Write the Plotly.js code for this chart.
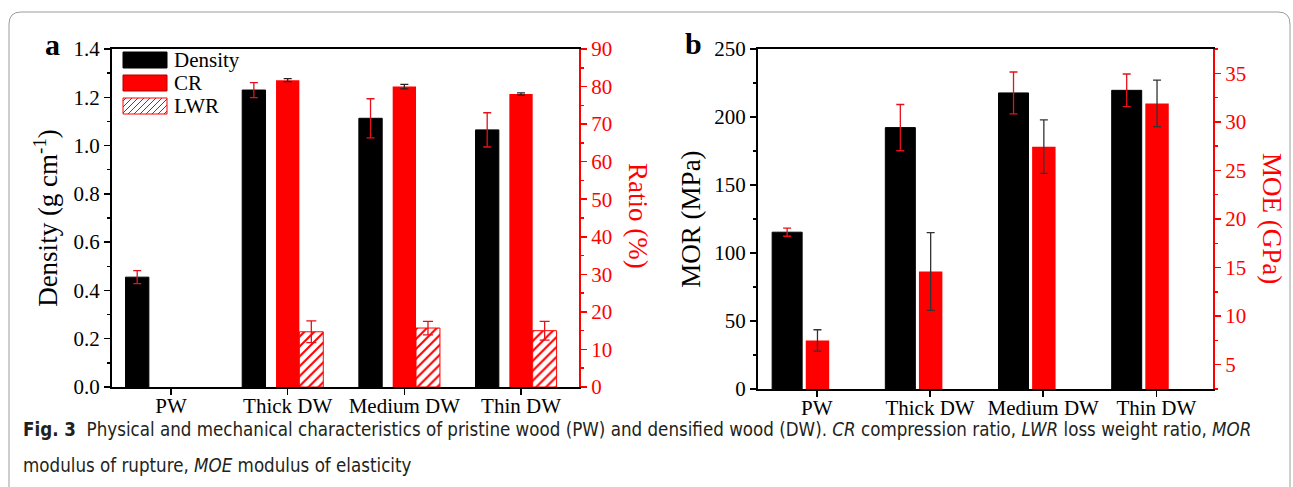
<!DOCTYPE html>
<html>
<head>
<meta charset="utf-8">
<script src="https://cdn.plot.ly/plotly-3.0.1.min.js"></script>
<style>html,body{margin:0;padding:0;background:#fff;}#chart{width:1293px;height:487px;}</style>
</head>
<body>
<div id="chart"></div>
<script>
// ---- data ----
const categories = ['PW', 'Thick DW', 'Medium DW', 'Thin DW'];
const density    = [0.455, 1.230, 1.113, 1.065];
const densityErr = [0.027, 0.031, 0.081, 0.071];
const crRatio    = [null, 81.7, 80.0, 78.0];
const crErr      = [null, 0.4, 0.6, 0.3];
const lwrRatio   = [null, 14.7, 15.7, 15.0];
const lwrErr     = [null, 2.9, 1.8, 2.5];
const mor        = [115.3, 192.2, 217.7, 219.6];
const morErr     = [3.0, 17.0, 15.4, 12.0];
const moe        = [7.5, 14.6, 27.45, 31.9];
const moeErr     = [1.1, 4.0, 2.75, 2.4];
const legendNames = ['Density', 'CR', 'LWR'];

// ---- helpers (pixel -> paper) ----
const W = 1293, H = 487;
const px = v => v / W;
const py = v => 1 - v / H;

const SERIF = 'Liberation Serif, Times New Roman, serif';
const RED = '#ff0000';

const traces = [
  {type:'bar', name:'Density', x:categories, y:density, xaxis:'x', yaxis:'y',
   offset:-0.39, width:0.2, marker:{color:'#000', line:{color:'#000', width:1}},
   error_y:{type:'data', array:densityErr, color:'#e8101a', thickness:1.3, width:4}, showlegend:false},
  {type:'bar', name:'CR', x:categories, y:crRatio, xaxis:'x', yaxis:'y2',
   offset:-0.1, width:0.2, marker:{color:RED, line:{color:RED, width:0}},
   error_y:{type:'data', array:crErr, color:'#222', thickness:1.3, width:4}, showlegend:false},
  {type:'bar', name:'LWR', x:categories, y:lwrRatio, xaxis:'x', yaxis:'y2',
   offset:0.1, width:0.205,
   marker:{color:'#fff', line:{color:RED, width:1},
           pattern:{shape:'/', fgcolor:RED, bgcolor:'#fff', size:7, solidity:0.3}},
   error_y:{type:'data', array:lwrErr, color:'#e8101a', thickness:1.3, width:5}, showlegend:false},
  {type:'bar', name:'MOR', x:categories, y:mor, xaxis:'x2', yaxis:'y3',
   offset:-0.395, width:0.265, marker:{color:'#000', line:{color:'#000', width:1}},
   error_y:{type:'data', array:morErr, color:'#e8101a', thickness:1.3, width:4}, showlegend:false},
  {type:'bar', name:'MOE', x:categories, y:moe, xaxis:'x2', yaxis:'y4',
   offset:-0.098, width:0.207, marker:{color:RED, line:{color:RED, width:0}},
   error_y:{type:'data', array:moeErr, color:'#333', thickness:1.3, width:4}, showlegend:false}
];

const xCommon = {
  type:'category', showline:true, linecolor:'#000', linewidth:2, mirror:true,
  ticks:'outside', ticklen:6, tickwidth:1.5, tickcolor:'#000', ticklabelstandoff:-7,
  tickfont:{family:SERIF, size:21, color:'#000'}, showgrid:false, zeroline:false,
  automargin:false, fixedrange:true
};
const yLeft = {
  showline:true, linecolor:'#000', linewidth:2, ticks:'outside', ticklen:6, tickwidth:1.5,
  tickcolor:'#000', tickfont:{family:SERIF, size:21, color:'#000'}, showgrid:false,
  zeroline:false, automargin:false, fixedrange:true
};
const yRight = {
  showline:true, linecolor:RED, linewidth:2, ticks:'outside', ticklen:6, tickwidth:1.5,
  tickcolor:RED, tickfont:{family:SERIF, size:21, color:RED}, showgrid:false,
  zeroline:false, automargin:false, fixedrange:true, side:'right'
};

const layout = {
  width:W, height:H, margin:{l:0, r:0, t:0, b:0},
  paper_bgcolor:'#fff', plot_bgcolor:'rgba(0,0,0,0)', barmode:'overlay', showlegend:false,
  xaxis: Object.assign({}, xCommon, {domain:[px(112), px(579)], anchor:'y', range:[-0.506, 3.497]}),
  yaxis: Object.assign({}, yLeft, {domain:[py(387), py(49)], anchor:'x', range:[0, 1.4],
    dtick:0.2, tickformat:'.1f',
    minor:{dtick:0.1, ticks:'outside', ticklen:3, tickwidth:1.5, tickcolor:'#000'},
    title:{text:'Density (g cm<sup>-1</sup>)', font:{family:SERIF, size:27, color:'#000'}, standoff:8}}),
  yaxis2: Object.assign({}, yRight, {overlaying:'y', anchor:'x', range:[0, 90], dtick:10,
    minor:{dtick:5, ticks:'outside', ticklen:3, tickwidth:1.5, tickcolor:RED}}),
  xaxis2: Object.assign({}, xCommon, {domain:[px(758), px(1213)], anchor:'y3', range:[-0.52, 3.5]}),
  yaxis3: Object.assign({}, yLeft, {domain:[py(389), py(49)], anchor:'x2', range:[0, 250],
    dtick:50, minor:{dtick:25, ticks:'outside', ticklen:3, tickwidth:1.5, tickcolor:'#000'},
    title:{text:'MOR (MPa)', font:{family:SERIF, size:27, color:'#000'}, standoff:6}}),
  yaxis4: Object.assign({}, yRight, {overlaying:'y3', anchor:'x2', range:[2.5, 37.5],
    tick0:5, dtick:5, minor:{tick0:0, dtick:2.5, ticks:'outside', ticklen:3, tickwidth:1.5, tickcolor:RED}}),
  shapes:[], annotations:[]
};

// outer rounded frame
const fL = 9, fT = 12, fR = 1290, fB = 520, rr = 12;
layout.shapes.push({type:'path', xref:'paper', yref:'paper', layer:'below',
  line:{color:'#9c9c9c', width:1},
  path:`M${px(fL)},${py(fB)} L${px(fL)},${py(fT+rr)} Q${px(fL)},${py(fT)} ${px(fL+rr)},${py(fT)} ` +
       `L${px(fR-rr)},${py(fT)} Q${px(fR)},${py(fT)} ${px(fR)},${py(fT+rr)} L${px(fR)},${py(fB)}`});

// manual legend (panel a)
const lgX0 = 123, lgX1 = 167, lgTops = [52, 75, 98], lgH = 16;
const lgFill = ['#000', RED, '#fff'];
const lgLine = ['#000', '#b00000', RED];
legendNames.forEach((name, i) => {
  const y0 = lgTops[i], y1 = y0 + lgH;
  layout.shapes.push({type:'rect', xref:'paper', yref:'paper', x0:px(lgX0), x1:px(lgX1),
    y0:py(y1), y1:py(y0), fillcolor:lgFill[i], line:{color:lgLine[i], width:1}});
  if (i === 2) {
    let p = '';
    for (let c = lgX0 + y0 + 3; c < lgX1 + y1; c += 6) {
      const xa = Math.max(lgX0, c - y1), xb = Math.min(lgX1, c - y0);
      if (xa < xb) p += `M${px(xa)},${py(c - xa)} L${px(xb)},${py(c - xb)} `;
    }
    layout.shapes.push({type:'path', xref:'paper', yref:'paper', path:p, line:{color:RED, width:1}});
  }
  layout.annotations.push({xref:'paper', yref:'paper', x:px(172), y:py(y0 + lgH/2), xanchor:'left',
    yanchor:'middle', showarrow:false, text:name, font:{family:SERIF, size:21, color:'#000'}});
});

// right axis titles (rotated clockwise)
layout.annotations.push({xref:'paper', yref:'paper', x:px(638), y:py(216), xanchor:'center', yanchor:'middle',
  showarrow:false, textangle:90, text:'Ratio (%)', font:{family:SERIF, size:27, color:RED}});
layout.annotations.push({xref:'paper', yref:'paper', x:px(1272), y:py(218), xanchor:'center', yanchor:'middle',
  showarrow:false, textangle:90, text:'MOE (GPa)', font:{family:SERIF, size:27, color:RED}});

// panel letters
layout.annotations.push({xref:'paper', yref:'paper', x:px(52), y:py(44), xanchor:'center', yanchor:'middle',
  showarrow:false, text:'<b>a</b>', font:{family:SERIF, size:30, color:'#000'}});
layout.annotations.push({xref:'paper', yref:'paper', x:px(693), y:py(43), xanchor:'center', yanchor:'middle',
  showarrow:false, text:'<b>b</b>', font:{family:SERIF, size:30, color:'#000'}});

// caption
const CAP = 'Liberation Sans Narrow, Arial Narrow, DejaVu Sans Condensed, sans-serif';
layout.annotations.push({xref:'paper', yref:'paper', x:px(21), y:py(429), xanchor:'left', yanchor:'middle',
  showarrow:false, align:'left',
  text:'<b>Fig. 3</b>  Physical and mechanical characteristics of pristine wood (PW) and densified wood (DW). <i>CR</i> compression ratio, <i>LWR</i> loss weight ratio, <i>MOR</i>',
  font:{family:CAP, size:18.6, color:'#231f20'}});
layout.annotations.push({xref:'paper', yref:'paper', x:px(21), y:py(465), xanchor:'left', yanchor:'middle',
  showarrow:false, align:'left',
  text:'modulus of rupture, <i>MOE</i> modulus of elasticity',
  font:{family:CAP, size:18.6, color:'#231f20'}});

Plotly.newPlot('chart', traces, layout, {displayModeBar:false, staticPlot:true});
</script>
</body>
</html>
